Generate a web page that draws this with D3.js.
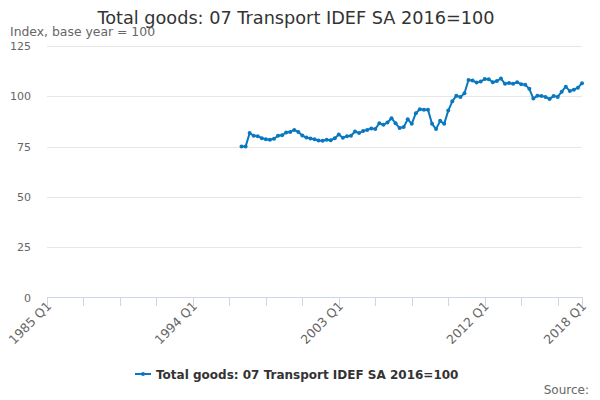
<!DOCTYPE html>
<html lang="en">
<head>
    <meta charset="UTF-8">
    <title>Total goods: 07 Transport IDEF SA 2016=100</title>
    <script src="https://cdn.jsdelivr.net/npm/d3@7"></script>
    <style>
        body { margin: 0; background: #fff; }
        svg { font-family: "DejaVu Sans", sans-serif; }
    </style>
</head>
<body>
<div id="chart"></div>
<script>
    // quarters shown on the axis, 1985 Q1 .. 2018 Q1
    var quarters = [];
    for (var y = 1985; y <= 2018; y++) {
        for (var q = 1; q <= 4; q++) {
            if (y == 2018 && q > 1) break;
            quarters.push(y + ' Q' + q);
        }
    }

    // series starts at 1997 Q1
    var seriesStart = '1997 Q1';
    var seriesValues = [
        75.0, 75.0, 81.7, 80.4, 80.2, 79.2, 78.7, 78.4, 78.9, 80.4,
        80.7, 82.0, 82.3, 83.3, 82.3, 80.5, 79.5, 79.0, 78.7, 78.0,
        77.9, 78.4, 78.2, 79.2, 81.0, 79.4, 80.2, 80.4, 82.5, 81.7,
        82.8, 83.3, 84.0, 83.8, 86.6, 85.8, 87.0, 89.1, 86.6, 84.2,
        84.7, 88.6, 86.3, 91.6, 93.6, 93.3, 93.3, 86.3, 83.7, 87.8,
        86.3, 92.9, 97.5, 100.3, 99.6, 101.5, 108.1, 107.8, 106.8, 107.3,
        108.6, 108.5, 107.0, 107.6, 108.8, 106.2, 106.6, 106.2, 107.0, 106.0,
        105.8, 103.7, 98.9, 100.3, 100.2, 99.7, 98.6, 100.2, 99.7, 102.3,
        104.8, 102.6, 103.3, 104.3, 106.5
    ];

    var yTicks = [0, 25, 50, 75, 100, 125];
    var xTickLabels = ['1985 Q1', '1994 Q1', '2003 Q1', '2012 Q1', '2018 Q1'];
    var seriesName = 'Total goods: 07 Transport IDEF SA 2016=100';

    var width = 600, height = 400;
    var lineColor = '#0a78c0';

    var svg = d3.select('#chart').append('svg')
        .attr('width', width)
        .attr('height', height);

    var x = d3.scalePoint().domain(quarters).range([47, 582]);
    var yScale = d3.scaleLinear().domain([0, 125]).range([297.5, 46]);

    var startIdx = quarters.indexOf(seriesStart);
    var data = seriesValues.map(function(v, i) {
        return { q: quarters[startIdx + i], v: v };
    });

    // title + subtitle
    svg.append('text')
        .attr('x', 296).attr('y', 24)
        .attr('text-anchor', 'middle')
        .attr('font-size', 17.7)
        .attr('fill', '#333')
        .text(seriesName);

    svg.append('text')
        .attr('x', 10).attr('y', 36)
        .attr('font-size', 12.4)
        .attr('fill', '#666')
        .text('Index, base year = 100');

    // gridlines and y labels
    var yAxis = svg.append('g');
    yAxis.selectAll('line')
        .data(yTicks.filter(function(d) { return d > 0; }))
        .join('line')
        .attr('x1', 47).attr('x2', 582)
        .attr('y1', function(d) { return Math.round(yScale(d)) + 0.5; })
        .attr('y2', function(d) { return Math.round(yScale(d)) + 0.5; })
        .attr('stroke', '#e6e6e6');

    yAxis.selectAll('text')
        .data(yTicks)
        .join('text')
        .attr('x', 31)
        .attr('y', function(d) { return yScale(d) + 4; })
        .attr('text-anchor', 'end')
        .attr('font-size', 11)
        .attr('fill', '#666')
        .text(function(d) { return d; });

    // x axis
    var tickQuarters = quarters.filter(function(d, i) { return i % 9 == 0; });
    tickQuarters.push(quarters[quarters.length - 1]);

    var xAxis = svg.append('g');
    xAxis.append('line')
        .attr('x1', 47).attr('x2', 583)
        .attr('y1', 297.5).attr('y2', 297.5)
        .attr('stroke', '#ccd6eb');

    xAxis.selectAll('.tick')
        .data(tickQuarters)
        .join('line')
        .attr('class', 'tick')
        .attr('x1', function(d) { return Math.round(x(d)) + 0.5; })
        .attr('x2', function(d) { return Math.round(x(d)) + 0.5; })
        .attr('y1', 297.5).attr('y2', 306)
        .attr('stroke', '#ccd6eb');

    xAxis.selectAll('.lbl')
        .data(xTickLabels)
        .join('text')
        .attr('class', 'lbl')
        .attr('text-anchor', 'end')
        .attr('font-size', 12.5)
        .attr('fill', '#666')
        .attr('transform', function(d) {
            return 'translate(' + (x(d) + 5) + ',307) rotate(-45)';
        })
        .text(function(d) { return d; });

    // the series
    var line = d3.line()
        .x(function(d) { return x(d.q); })
        .y(function(d) { return yScale(d.v); });

    svg.append('path')
        .datum(data)
        .attr('fill', 'none')
        .attr('stroke', lineColor)
        .attr('stroke-width', 2)
        .attr('stroke-linejoin', 'round')
        .attr('d', line);

    svg.selectAll('.dot')
        .data(data)
        .join('circle')
        .attr('class', 'dot')
        .attr('cx', function(d) { return x(d.q); })
        .attr('cy', function(d) { return yScale(d.v); })
        .attr('r', 2)
        .attr('fill', lineColor);

    // legend
    var legend = svg.append('g').attr('transform', 'translate(135,374)');
    legend.append('line')
        .attr('x1', 0).attr('x2', 16)
        .attr('stroke', lineColor).attr('stroke-width', 2);
    legend.append('circle')
        .attr('cx', 8).attr('r', 2)
        .attr('fill', lineColor);
    legend.append('text')
        .attr('x', 21).attr('y', 4.5)
        .attr('font-size', 12)
        .attr('font-weight', 'bold')
        .attr('fill', '#333')
        .text(seriesName);

    svg.append('text')
        .attr('x', 589).attr('y', 394)
        .attr('text-anchor', 'end')
        .attr('font-size', 12)
        .attr('fill', '#666')
        .text('Source:');
</script>
</body>
</html>
